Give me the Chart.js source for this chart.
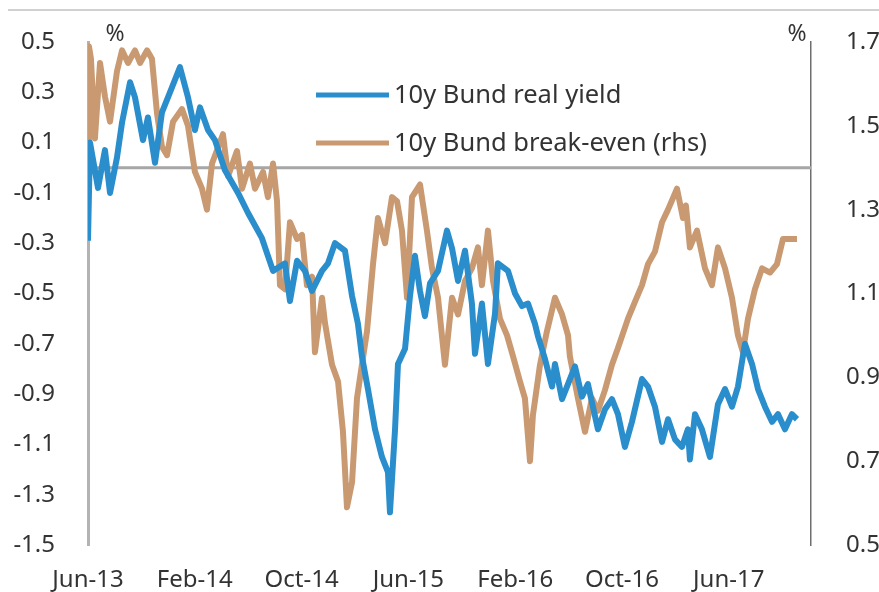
<!DOCTYPE html>
<html>
<head>
<meta charset="utf-8">
<script src="https://cdn.jsdelivr.net/npm/chart.js@4.4.0/dist/chart.umd.min.js"></script>
<style>
  html, body { margin: 0; padding: 0; background: #fff; }
  #wrap { width: 879px; height: 592px; position: relative; }
</style>
</head>
<body>
<div id="wrap"><canvas id="chart"></canvas></div>
<script>
// x values are months since Jun-13
const xTickMonths = [0, 8, 16, 24, 32, 40, 48];
const xLabels = ["Jun-13", "Feb-14", "Oct-14", "Jun-15", "Feb-16", "Oct-16", "Jun-17"];
const leftTicks = [0.5, 0.3, 0.1, -0.1, -0.3, -0.5, -0.7, -0.9, -1.1, -1.3, -1.5];
const rightTicks = [1.7, 1.5, 1.3, 1.1, 0.9, 0.7, 0.5];

const realMonths = [0, 0.15, 0.75, 1.27, 1.65, 2.17, 2.55, 3.15, 3.52, 4.12, 4.49, 5.02, 5.54, 6.29, 6.89, 7.49, 8.01, 8.39, 8.99, 9.51,
  10.26, 11.24, 11.99, 13.03, 13.86, 14.76, 15.13, 15.66, 16.25, 16.78, 17.53, 17.98, 18.5, 19.25, 19.78, 20.22, 20.52, 20.97, 21.5, 22.02,
  22.47, 22.62, 23.0, 23.22, 23.75, 24.12, 24.49, 24.87, 25.24, 25.62, 26.22, 26.89, 27.27, 27.72, 28.24, 28.76, 28.99, 29.51, 29.96, 30.49,
  30.71, 31.46, 31.99, 32.51, 32.96, 33.48, 33.71, 34.23, 34.76, 34.98, 35.51, 36.48, 37.0, 37.45, 38.2, 38.73, 39.25, 39.7, 40.22, 40.75,
  41.5, 41.95, 42.47, 43.0, 43.45, 43.97, 44.49, 44.94, 45.09, 45.47, 45.99, 46.59, 47.19, 47.72, 48.24, 48.69, 49.21, 49.74, 50.19, 50.71,
  51.24, 51.69, 52.21, 52.73, 53.11];
const realYield = [-0.29, 0.10, -0.08, 0.07, -0.10, 0.04, 0.18, 0.34, 0.28, 0.11, 0.20, 0.02, 0.22, 0.32, 0.40, 0.28, 0.15, 0.24, 0.15, 0.11,
  -0.01, -0.10, -0.18, -0.28, -0.41, -0.38, -0.53, -0.37, -0.41, -0.49, -0.41, -0.38, -0.30, -0.33, -0.51, -0.62, -0.75, -0.88, -1.04, -1.15,
  -1.21, -1.37, -1.04, -0.78, -0.72, -0.51, -0.35, -0.49, -0.59, -0.46, -0.41, -0.25, -0.32, -0.45, -0.33, -0.54, -0.74, -0.54, -0.78, -0.58,
  -0.38, -0.41, -0.50, -0.55, -0.54, -0.62, -0.67, -0.76, -0.87, -0.78, -0.92, -0.79, -0.91, -0.86, -1.04, -0.96, -0.92, -0.98, -1.11, -1.01,
  -0.84, -0.87, -0.95, -1.09, -1.00, -1.08, -1.11, -1.04, -1.16, -0.98, -1.04, -1.15, -0.94, -0.88, -0.95, -0.87, -0.70, -0.78, -0.88, -0.95,
  -1.01, -0.98, -1.04, -0.98, -1.00];

const beMonths = [0, 0.07, 0.22, 0.52, 0.9, 1.27, 1.65, 2.17, 2.55, 3.0, 3.52, 3.9, 4.42, 4.79, 5.17, 5.54, 5.92, 6.37, 7.04, 7.49,
  8.01, 8.54, 8.91, 9.29, 10.11, 10.49, 11.16, 11.54, 12.13, 12.51, 13.11, 13.48, 13.86, 14.16, 14.38, 14.76, 15.13, 15.66, 16.03, 16.4,
  16.78, 17.0, 17.53, 17.75, 18.28, 18.73, 19.1, 19.4, 19.78, 20.15, 20.52, 20.9, 21.35, 21.72, 22.25, 22.77, 23.15, 23.52, 23.9, 24.27,
  24.87, 25.39, 25.77, 26.22, 26.74, 27.27, 27.72, 28.24, 28.76, 29.21, 29.51, 29.96, 30.34, 30.86, 31.39, 31.84, 32.36, 32.73, 33.11, 33.33,
  33.86, 34.38, 34.98, 35.51, 35.96, 36.1, 36.7, 37.23, 37.75, 38.2, 38.73, 39.25, 39.7, 40.45, 40.97, 41.5, 41.95, 42.47, 43.0, 43.45,
  44.12, 44.57, 44.79, 45.09, 45.62, 46.22, 46.74, 47.19, 47.72, 48.24, 48.69, 49.06, 49.44, 49.96, 50.49, 51.09, 51.61, 52.06, 52.58, 53.11];
const breakEven = [1.46, 1.69, 1.66, 1.47, 1.65, 1.57, 1.51, 1.63, 1.68, 1.65, 1.68, 1.65, 1.68, 1.66, 1.53, 1.45, 1.43, 1.51, 1.54, 1.50,
  1.39, 1.35, 1.30, 1.41, 1.48, 1.38, 1.44, 1.35, 1.41, 1.35, 1.39, 1.33, 1.41, 1.32, 1.12, 1.11, 1.27, 1.23, 1.24, 1.12,
  1.14, 0.96, 1.09, 1.03, 0.93, 0.89, 0.77, 0.59, 0.65, 0.85, 0.93, 1.01, 1.17, 1.28, 1.22, 1.33, 1.32, 1.25, 1.09, 1.33,
  1.36, 1.25, 1.16, 1.09, 0.93, 1.09, 1.05, 1.13, 1.16, 1.21, 1.12, 1.25, 1.13, 1.04, 1.00, 0.95, 0.89, 0.85, 0.70, 0.81,
  0.93, 1.01, 1.09, 1.05, 1.00, 0.95, 0.85, 0.77, 0.85, 0.82, 0.87, 0.93, 0.97, 1.04, 1.08, 1.12, 1.17, 1.20, 1.27, 1.30,
  1.35, 1.28, 1.31, 1.21, 1.25, 1.16, 1.12, 1.21, 1.16, 1.09, 1.00, 0.96, 1.04, 1.11, 1.16, 1.15, 1.17, 1.23, 1.23, 1.23];

const blue = "#2a8dcc";
const brown = "#c99a72";
const textColor = "#333333";
const fontFamily = "'Noto Sans', sans-serif";

const extras = {
  id: "extras",
  beforeDatasetsDraw(chart) {
    const { ctx, chartArea } = chart;
    const y0 = chart.scales.y.getPixelForValue(0);
    ctx.save();
    ctx.strokeStyle = "#a6a6a6";
    ctx.lineWidth = 3;
    ctx.beginPath();
    ctx.moveTo(chartArea.left, y0);
    ctx.lineTo(chartArea.right, y0);
    ctx.stroke();
    ctx.restore();
  },
  afterDraw(chart) {
    const { ctx, chartArea } = chart;
    ctx.save();
    // frame line at top
    ctx.strokeStyle = "#d0d0d0";
    ctx.lineWidth = 2;
    ctx.beginPath();
    ctx.moveTo(8, 10);
    ctx.lineTo(879, 10);
    ctx.stroke();

    ctx.fillStyle = textColor;
    ctx.font = "23px " + fontFamily;
    ctx.textAlign = "center";
    ctx.textBaseline = "middle";
    ctx.fillText("%", chartArea.left + 27, 34);
    ctx.fillText("%", chartArea.right - 14, 34);

    // legend
    const items = [
      { label: "10y Bund real yield", color: blue, y: 95 },
      { label: "10y Bund break-even (rhs)", color: brown, y: 143 }
    ];
    ctx.textAlign = "left";
    ctx.font = "25.5px " + fontFamily;
    items.forEach(it => {
      ctx.strokeStyle = it.color;
      ctx.lineWidth = 5;
      ctx.beginPath();
      ctx.moveTo(316, it.y);
      ctx.lineTo(389, it.y);
      ctx.stroke();
      ctx.fillStyle = textColor;
      ctx.fillText(it.label, 394, it.y + 1);
    });
    ctx.restore();
  }
};

const ctx = document.getElementById("chart").getContext("2d");
const chart = new Chart(ctx, {
  type: "line",
  data: {
    datasets: [
      {
        label: "10y Bund real yield",
        data: realMonths.map((m, i) => ({ x: m, y: realYield[i] })),
        borderColor: blue,
        borderWidth: 6,
        borderJoinStyle: "round",
        pointRadius: 0,
        tension: 0,
        yAxisID: "y",
        order: 0
      },
      {
        label: "10y Bund break-even (rhs)",
        data: beMonths.map((m, i) => ({ x: m, y: breakEven[i] })),
        borderColor: brown,
        borderWidth: 6,
        borderJoinStyle: "round",
        pointRadius: 0,
        tension: 0,
        yAxisID: "y1",
        order: 1
      }
    ]
  },
  options: {
    responsive: true,
    maintainAspectRatio: false,
    animation: false,
    layout: { padding: { top: 42, left: 0, right: 0, bottom: 0 } },
    plugins: {
      legend: { display: false },
      tooltip: { enabled: false }
    },
    scales: {
      x: {
        type: "linear",
        min: 0,
        max: 54.16,
        grid: { display: false },
        border: { display: false },
        afterBuildTicks: scale => { scale.ticks = xTickMonths.map(v => ({ value: v })); },
        afterFit: scale => { scale.height = 47; },
        ticks: {
          autoSkip: false,
          maxRotation: 0,
          padding: 13,
          color: textColor,
          font: { family: fontFamily, size: 24 },
          callback: v => xLabels[xTickMonths.indexOf(v)]
        }
      },
      y: {
        position: "left",
        min: -1.5,
        max: 0.5,
        grid: { display: false },
        border: { display: true, color: "#b3b3b3", width: 3 },
        afterBuildTicks: scale => { scale.ticks = leftTicks.map(v => ({ value: v })); },
        afterFit: scale => { scale.width = 88; },
        ticks: {
          padding: 25,
          color: textColor,
          font: { family: fontFamily, size: 24 },
          callback: v => v.toFixed(1)
        }
      },
      y1: {
        position: "right",
        min: 0.5,
        max: 1.7,
        grid: { display: false },
        border: { display: true, color: "#6e6e6e", width: 1.5 },
        afterBuildTicks: scale => { scale.ticks = rightTicks.map(v => ({ value: v })); },
        afterFit: scale => { scale.width = 68; },
        ticks: {
          padding: 27,
          color: textColor,
          font: { family: fontFamily, size: 24 },
          callback: v => v.toFixed(1)
        }
      }
    }
  },
  plugins: [extras]
});
</script>
</body>
</html>
